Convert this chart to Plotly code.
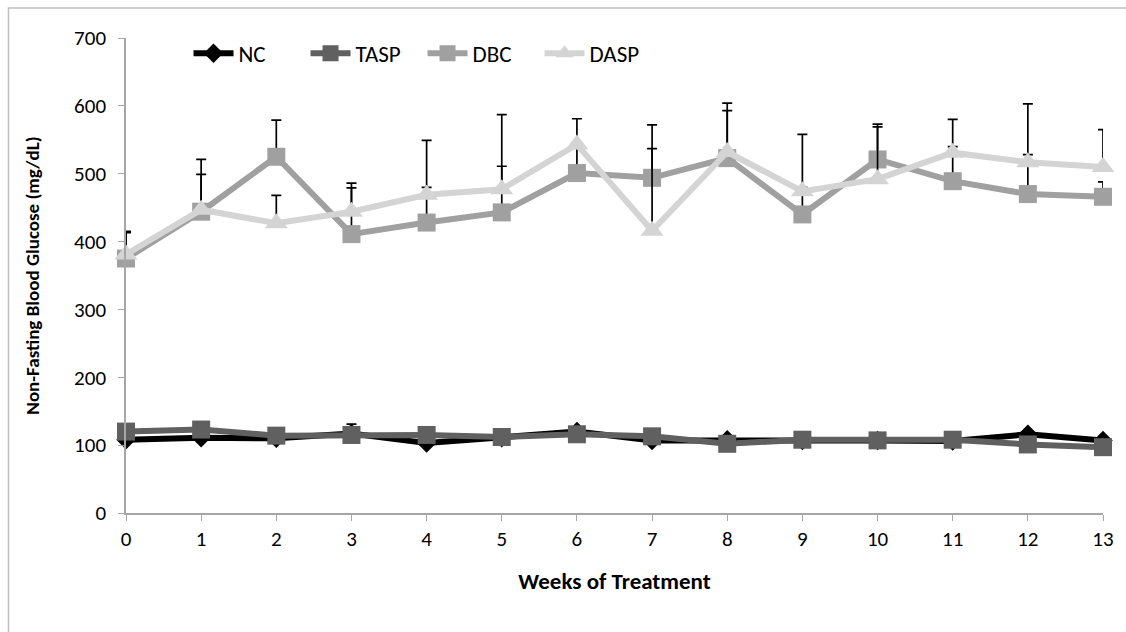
import plotly.graph_objects as go

weeks = list(range(14))
week_labels = [str(w) for w in weeks]

nc = [108, 111, 110, 117, 103, 111, 120, 107, 108, 107, 107, 106, 116, 107]
nc_err = [3, 3, 3, 14, 3, 3, 6, 3, 4, 3, 3, 3, 5, 4]

tasp = [120, 123, 114, 115, 115, 112, 116, 113, 102, 108, 107, 108, 101, 97]
tasp_err = [3, 3, 3, 3, 3, 3, 3, 3, 3, 3, 3, 3, 3, 3]

dbc = [375, 444, 525, 411, 428, 443, 501, 494, 523, 440, 521, 489, 470, 466]
dbc_err = [38, 55, 54, 68, 52, 68, 45, 43, 70, 40, 52, 51, 58, 22]

dasp = [381, 447, 427, 444, 469, 477, 543, 416, 532, 474, 492, 531, 517, 510]
dasp_err = [34, 74, 41, 42, 80, 110, 38, 156, 72, 84, 77, 49, 86, 55]

series = [
    ("NC", nc, nc_err, "#000000", "diamond", 15),
    ("TASP", tasp, tasp_err, "#606060", "square", 18),
    ("DBC", dbc, dbc_err, "#a0a0a0", "square", 18),
    ("DASP", dasp, dasp_err, "#d4d4d4", "triangle-up", 20),
]

FONT = "Carlito, Lato, 'Liberation Sans', sans-serif"

fig = go.Figure()
for name, vals, err, color, sym, size in series:
    fig.add_trace(go.Scatter(
        x=weeks, y=vals, name=name, mode="lines+markers",
        line=dict(color=color, width=6),
        marker=dict(symbol=sym, size=size, color=color),
        error_y=dict(type="data", array=err, arrayminus=[0] * len(err),
                     symmetric=False, color="#000000", thickness=1.7, width=5),
        cliponaxis=False,
    ))

fig.update_layout(
    width=1126, height=632,
    margin=dict(l=126, r=19, t=38, b=119),
    paper_bgcolor="white", plot_bgcolor="white",
    font=dict(family=FONT, size=21, color="#000000"),
    showlegend=True,
    legend=dict(orientation="h", x=0.064, y=0.968, xanchor="left", yanchor="middle",
                font=dict(size=23), itemwidth=40, entrywidth=62, entrywidthmode="pixels",
                bgcolor="rgba(0,0,0,0)", tracegroupgap=0),
    xaxis=dict(range=[0, 13], tickmode="array", tickvals=weeks, ticktext=week_labels,
               showgrid=False, zeroline=False, showline=True, linecolor="#a6a6a6",
               linewidth=1.5, ticks="outside", ticklen=6, tickcolor="#a6a6a6",
               tickfont=dict(size=21),
               title=dict(text="<b>Weeks of Treatment</b>", font=dict(size=23), standoff=22)),
    yaxis=dict(range=[0, 700], tickvals=[0, 100, 200, 300, 400, 500, 600, 700],
               showgrid=False, zeroline=False, showline=True, linecolor="#a6a6a6",
               linewidth=1.5, ticks="outside", ticklen=6, tickcolor="#a6a6a6",
               tickfont=dict(size=21), ticklabelstandoff=8,
               title=dict(text="<b>Non-Fasting Blood Glucose (mg/dL)</b>", font=dict(size=19),
                          standoff=29)),
)

fig.add_shape(type="rect", xref="paper", yref="paper",
              x0=(8 - 126) / 981, x1=(1140 - 126) / 981,
              y0=(513 - 650) / 475, y1=(513 - 8) / 475,
              line=dict(color="#bfbfbf", width=1.5), fillcolor="rgba(0,0,0,0)", layer="below")

fig.write_html("out.html", config={"displayModeBar": False},
               post_script="document.body.style.margin='0';")
